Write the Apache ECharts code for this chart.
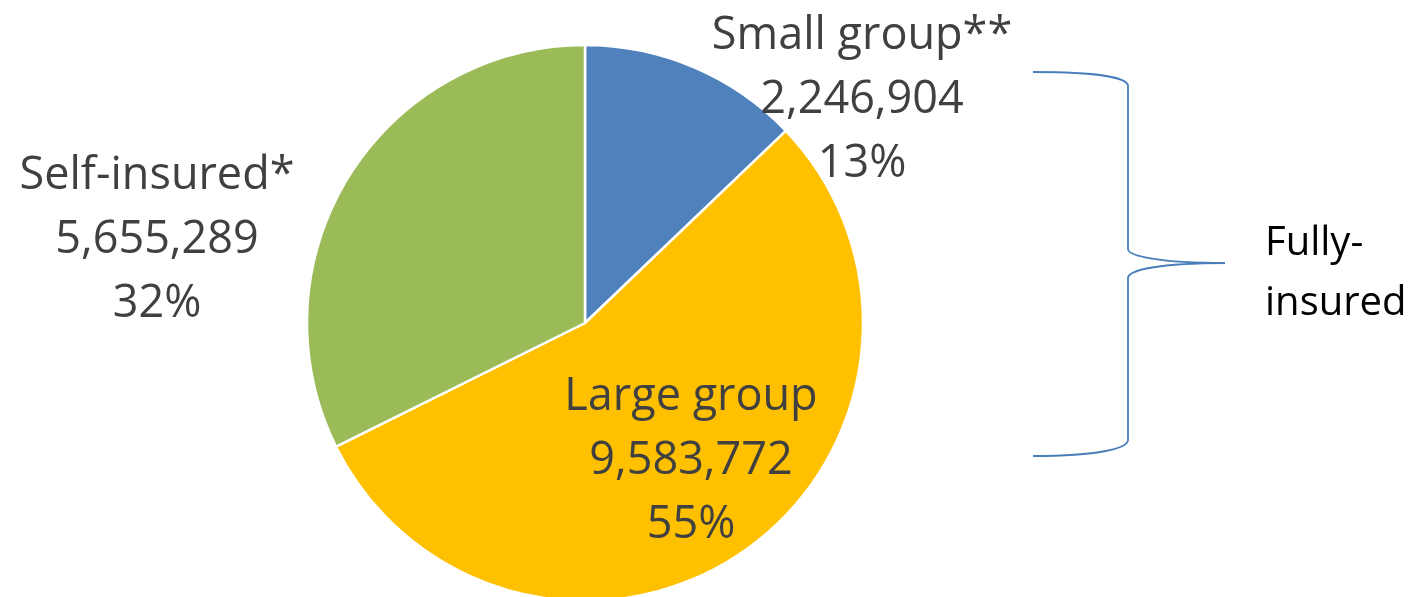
<!DOCTYPE html>
<html>
<head>
<meta charset="UTF-8">
<title>Enrollment by market</title>
<script src="https://cdn.jsdelivr.net/npm/echarts@6/dist/echarts.min.js"></script>
<style>
  html, body { margin: 0; padding: 0; background: #fff; }
</style>
</head>
<body>
<div id="main" style="width:1428px;height:597px"></div>
<script>
// data
var categories = ['Small group**', 'Large group', 'Self-insured*'];
var enrollment = [2246904, 9583772, 5655289];
var sliceColors = ['#4F81BD', '#FFC000', '#9BBB59'];
// where each slice label sits (centre of the text block)
var labelSpots = [[862, 100], [691, 461], [157, 240]];

var myChart = echarts.init(document.getElementById('main'));

function fmt(n) {
  return String(n).replace(/\B(?=(\d{3})+(?!\d))/g, ',');
}

// the curly brace on the right, drawn as curves + lines
var braceStyle = { stroke: '#4A7EBB', lineWidth: 1.8, fill: null };
function curve(x1, y1, c1x, c1y, c2x, c2y, x2, y2) {
  return { type: 'bezierCurve', silent: true, style: braceStyle,
    shape: { x1: x1, y1: y1, cpx1: c1x, cpy1: c1y, cpx2: c2x, cpy2: c2y, x2: x2, y2: y2 } };
}
function seg(x1, y1, x2, y2) {
  return { type: 'line', silent: true, style: braceStyle,
    shape: { x1: x1, y1: y1, x2: x2, y2: y2 } };
}

var option = {
  animation: false,
  series: [{
    type: 'pie',
    center: [585, 323],
    radius: 278,
    startAngle: 90,
    clockwise: true,
    percentPrecision: 0,
    itemStyle: { borderColor: '#fff', borderWidth: 2.5 },
    label: {
      show: true,
      position: 'outside',
      formatter: function (p) {
        return p.name + '\n' + fmt(p.value) + '\n' + p.percent + '%';
      },
      fontFamily: 'Open Sans',
      fontSize: 45,
      lineHeight: 64,
      color: '#404040',
      align: 'center'
    },
    labelLine: { show: false },
    labelLayout: function (p) {
      var s = labelSpots[p.dataIndex];
      return { x: s[0], y: s[1], align: 'center', verticalAlign: 'middle' };
    },
    emphasis: { disabled: true },
    data: categories.map(function (c, i) {
      return { name: c, value: enrollment[i], itemStyle: { color: sliceColors[i] } };
    })
  }],
  graphic: [
    curve(1033, 72, 1100, 72, 1128, 78, 1128, 86),
    seg(1128, 86, 1128, 249),
    curve(1128, 249, 1128, 256, 1160, 263, 1225, 263),
    curve(1225, 263, 1160, 263, 1128, 270, 1128, 278),
    seg(1128, 278, 1128, 440),
    curve(1128, 440, 1128, 448, 1100, 456, 1033, 456),
    {
      type: 'text',
      left: 1265,
      top: 214,
      style: {
        text: 'Fully-\ninsured',
        fontFamily: 'Open Sans',
        fontSize: 40,
        lineHeight: 60,
        fill: '#000'
      }
    }
  ]
};

myChart.setOption(option);
</script>
</body>
</html>
